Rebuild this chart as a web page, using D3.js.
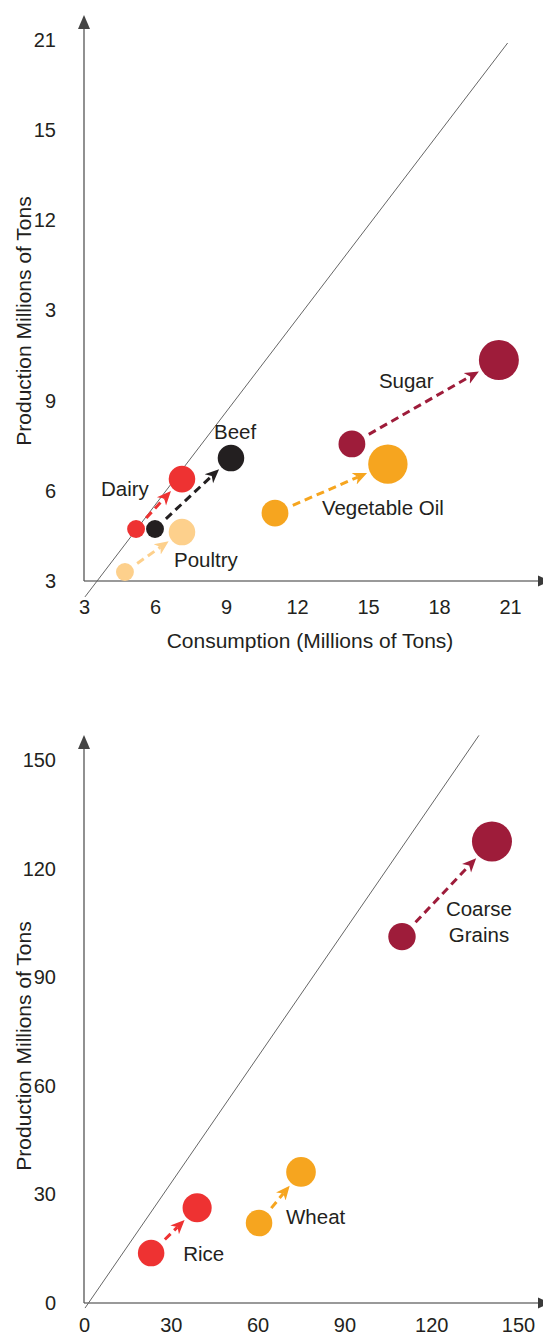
<!DOCTYPE html>
<html><head><meta charset="utf-8">
<script src="https://cdn.jsdelivr.net/npm/d3@7"></script>
<style>
body{margin:0;background:#fff}
text{font-family:"Liberation Sans",Arial,Helvetica,sans-serif;fill:#231f20}
</style>
</head><body>
<svg id="c" width="543" height="1335"></svg>
<script>
// ---------- Top panel data ----------
const topItems = ["Dairy", "Beef", "Poultry", "Vegetable Oil", "Sugar"];
const topConsFrom = [5.2, 6.0, 4.73, 11.07, 14.32];
const topProdFrom = [4.73, 4.73, 3.30, 5.26, 7.56];
const topConsTo = [7.14, 9.21, 7.14, 15.84, 20.53];
const topProdTo = [6.39, 7.09, 4.63, 6.89, 10.35];
const topSizeFrom = [20, 20, 20, 45, 45];
const topSizeTo = [44, 44, 44, 97, 100];
const topXTicks = [3, 6, 9, 12, 15, 18, 21];
const topXLabels = ["3", "6", "9", "12", "15", "18", "21"];
const topYTicks = [21, 18, 15, 12, 9, 6, 3];
const topYLabels = ["21", "15", "12", "3", "9", "6", "3"];
const topRefLine = [[3.04, 2.47], [20.9, 20.9]];

// ---------- Bottom panel data ----------
const botItems = ["Rice", "Wheat", "Coarse Grains"];
const botConsFrom = [23.2, 60.5, 109.9];
const botProdFrom = [13.8, 22.1, 101.2];
const botConsTo = [39.1, 75.0, 141.0];
const botProdTo = [26.3, 36.2, 127.5];
const botSizeFrom = [44, 44, 47];
const botSizeTo = [53, 55, 100];
const botXTicks = [0, 30, 60, 90, 120, 150];
const botXLabels = ["0", "30", "60", "90", "120", "150"];
const botYTicks = [150, 120, 90, 60, 30, 0];
const botYLabels = ["150", "120", "90", "60", "30", "0"];
const botRefLine = [[0.35, -1.4], [136.5, 156.8]];

// ---------- Styles / layout ----------
const colorOf = {
  "Dairy": "#ee3232", "Beef": "#231f20", "Poultry": "#fdd08c",
  "Vegetable Oil": "#f6a51f", "Sugar": "#9e1c3a",
  "Rice": "#ee3232", "Wheat": "#f6a51f", "Coarse Grains": "#9e1c3a"
};
// label offsets (px) from the end bubble centre, text-anchor start
const labelLayout = {
  "Dairy": [-81, 17], "Beef": [-17, -19], "Poultry": [-8, 35],
  "Vegetable Oil": [-66, 51], "Sugar": [-120, 28],
  "Rice": [-14, 53], "Wheat": [-15, 52], "Coarse Grains": [-13, 75]
};

const svg = d3.select("#c");
const defs = svg.append("defs");
Object.entries(colorOf).forEach(([k, c]) => {
  const id = "m" + k.replace(/\s/g, "");
  if (!defs.select("#" + id).empty()) return;
  defs.append("marker").attr("id", id)
    .attr("viewBox", "0 -7 15 14").attr("refX", 4).attr("refY", 0)
    .attr("markerWidth", 15).attr("markerHeight", 14)
    .attr("markerUnits", "userSpaceOnUse").attr("orient", "auto")
    .append("path").attr("d", "M0,-6.2L14,0L0,6.2L4,0Z").attr("fill", c);
});

const rScale = d3.scaleSqrt().domain([0, 100]).range([0, 20]);

function panel(cfg) {
  const x = d3.scaleLinear().domain(cfg.xDomain).range(cfg.xRange);
  const y = d3.scaleLinear().domain(cfg.yDomain).range(cfg.yRange);
  const g = svg.append("g");
  const x0 = cfg.xRange[0], y0 = cfg.yRange[0];

  // axes lines + arrows
  g.append("line").attr("x1", x0).attr("x2", 538).attr("y1", y0).attr("y2", y0)
    .attr("stroke", "#999").attr("stroke-width", 2);
  g.append("path").attr("d", `M538,${y0 - 5.5}L550,${y0}L538,${y0 + 5.5}Z`).attr("fill", "#3a3a3a");
  const yTop = cfg.yRange[1] - 25;
  g.append("line").attr("x1", x0).attr("x2", x0).attr("y1", y0).attr("y2", yTop + 12)
    .attr("stroke", "#555").attr("stroke-width", 1.3);
  g.append("path").attr("d", `M${x0 - 6},${yTop + 14}L${x0},${yTop}L${x0 + 6},${yTop + 14}Z`).attr("fill", "#444");

  // tick labels via axes
  const ax = g.append("g").attr("transform", `translate(0,${y0})`)
    .call(d3.axisBottom(x).tickValues(cfg.xTicks).tickSize(0).tickPadding(cfg.xPad)
      .tickFormat((d, i) => cfg.xLabels[i]));
  const ay = g.append("g").attr("transform", `translate(${x0},0)`)
    .call(d3.axisLeft(y).tickValues(cfg.yTicks).tickSize(0).tickPadding(28)
      .tickFormat((d, i) => cfg.yLabels[i]));
  [ax, ay].forEach(a => {
    a.select(".domain").remove();
    a.selectAll("text").attr("font-size", 20)
      .style("font-family", '"Liberation Sans",Arial,sans-serif').attr("fill", "#231f20");
  });

  // reference diagonal
  g.append("line")
    .attr("x1", x(cfg.ref[0][0])).attr("y1", y(cfg.ref[0][1]))
    .attr("x2", x(cfg.ref[1][0])).attr("y2", y(cfg.ref[1][1]))
    .attr("stroke", "#666").attr("stroke-width", 1);

  // titles
  g.append("text").attr("transform", `translate(31,${cfg.yTitleY}) rotate(-90)`)
    .attr("text-anchor", "middle").attr("font-size", 21).text("Production Millions of Tons");
  if (cfg.xTitle) {
    g.append("text").attr("x", 310).attr("y", cfg.xTitleY).attr("text-anchor", "middle")
      .attr("font-size", 21).text(cfg.xTitle);
  }

  const data = cfg.items.map((k, i) => ({
    k, x1: x(cfg.cf[i]), y1: y(cfg.pf[i]), x2: x(cfg.ct[i]), y2: y(cfg.pt[i]),
    r1: rScale(cfg.sf[i]), r2: rScale(cfg.st[i])
  }));

  // arrows
  data.forEach(d => {
    const dx = d.x2 - d.x1, dy = d.y2 - d.y1, L = Math.hypot(dx, dy);
    const ux = dx / L, uy = dy / L;
    const sx = d.x1 + ux * (d.r1 + 6), sy = d.y1 + uy * (d.r1 + 6);
    const tipX = d.x2 - ux * (d.r2 + 3), tipY = d.y2 - uy * (d.r2 + 3);
    const ex = tipX - ux * 10, ey = tipY - uy * 10;
    g.append("line").attr("x1", sx).attr("y1", sy).attr("x2", ex).attr("y2", ey)
      .attr("stroke", colorOf[d.k]).attr("stroke-width", 3)
      .attr("stroke-dasharray", "8,5")
      .attr("marker-end", `url(#m${d.k.replace(/\s/g, "")})`);
  });

  // bubbles
  data.forEach(d => {
    g.append("circle").attr("cx", d.x1).attr("cy", d.y1).attr("r", d.r1).attr("fill", colorOf[d.k]);
    g.append("circle").attr("cx", d.x2).attr("cy", d.y2).attr("r", d.r2).attr("fill", colorOf[d.k]);
  });

  // labels
  data.forEach(d => {
    const [ox, oy] = labelLayout[d.k];
    const words = d.k === "Coarse Grains" ? ["Coarse", "Grains"] : [d.k];
    if (words.length > 1) {
      const t = g.append("text").attr("text-anchor", "middle").attr("font-size", 20.5);
      words.forEach((w, i) => t.append("tspan").attr("x", d.x2 + ox).attr("y", d.y2 + oy + i * 26).text(w));
    } else {
      g.append("text").attr("x", d.x2 + ox).attr("y", d.y2 + oy).attr("font-size", 20.5).text(d.k);
    }
  });
}

panel({
  items: topItems, cf: topConsFrom, pf: topProdFrom, ct: topConsTo, pt: topProdTo,
  sf: topSizeFrom, st: topSizeTo,
  xDomain: [3, 21], yDomain: [3, 21], xRange: [84, 510], yRange: [581, 40],
  xTicks: topXTicks, xLabels: topXLabels, yTicks: topYTicks, yLabels: topYLabels, xPad: 19,
  ref: topRefLine, yTitleY: 321, xTitle: "Consumption (Millions of Tons)", xTitleY: 648
});
panel({
  items: botItems, cf: botConsFrom, pf: botProdFrom, ct: botConsTo, pt: botProdTo,
  sf: botSizeFrom, st: botSizeTo,
  xDomain: [0, 150], yDomain: [0, 150], xRange: [84, 518], yRange: [1303, 760],
  xTicks: botXTicks, xLabels: botXLabels, yTicks: botYTicks, yLabels: botYLabels, xPad: 15,
  ref: botRefLine, yTitleY: 1046, xTitle: null
});
</script>
</body></html>
